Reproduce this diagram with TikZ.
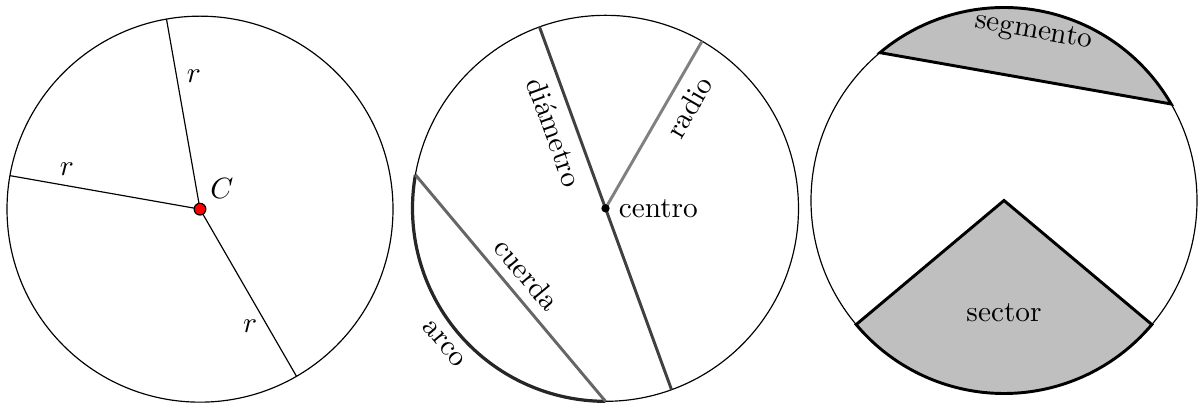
\documentclass[tikz,border=0pt]{standalone}
\usepackage{tikz}
\usetikzlibrary{calc}
\def\rad{2.316}
\begin{document}
\begin{tikzpicture}[
  punto/.style={circle,draw,inner sep=0pt,minimum size=4pt},
  etiq/.style={text=black},
  diam/.style={line width=1pt,black!75},
  radio/.style={line width=1pt,gray},
  cuerda/.style={line width=1pt,black!60},
  arco/.style={line width=1.1pt,black!85},
  pieza/.style={draw,line width=1pt,fill=lightgray}]
  \useasboundingbox (0,0) rectangle (14.376,-4.86);
  % circunferencia: radios
  \coordinate (c1) at (2.4,-2.51);
  \draw (c1) circle (\rad);
  \coordinate (p1) at ($(c1)+(100:\rad)$);
  \coordinate (p2) at ($(c1)+(170:\rad)$);
  \coordinate (p3) at ($(c1)+(300:\rad)$);
  \draw (c1) -- (p1) node[pos=0.7,right] (r1) {$r$};
  \draw (c1) -- (p2) node[pos=0.7,above] (r2) {$r$};
  \draw (c1) -- (p3) node[pos=0.7,left] (r3) {$r$};
  \node[punto,fill=red] (C) at (c1) {};
  \node[above right] (lC) at (c1) {$C$};
  % elementos
  \coordinate (c2) at (7.266,-2.50);
  \draw (c2) circle (\rad);
  \coordinate (d1) at ($(c2)+(110:\rad)$);
  \coordinate (d2) at ($(c2)+(290:\rad)$);
  \coordinate (q1) at ($(c2)+(60:\rad)$);
  \coordinate (k1) at ($(c2)+(170:\rad)$);
  \coordinate (k2) at ($(c2)+(270:\rad)$);
  \draw[arco] (k1) arc (170:270:\rad);
  \node[rotate=-50] (larco) at ($(c2)+(220:2.53)$) {arco};
  \draw[cuerda] (k1) -- (k2) node[etiq,midway,sloped,above] (lcuerda) {cuerda};
  \draw[diam] (d1) -- (d2) node[etiq,pos=0.27,sloped,below] (ldiam) {diámetro};
  \draw[radio] (c2) -- (q1) node[etiq,pos=0.67,sloped,below] (lradio) {radio};
  \node[punto,fill=black,minimum size=2.4pt] (O) at (c2) {};
  \node[right=1pt] (lcentro) at (c2) {centro};
  % sector y segmento
  \coordinate (c3) at (12.048,-2.406);
  \draw (c3) circle (\rad);
  \draw[pieza] (c3) -- ($(c3)+(220:\rad)$) arc (220:320:\rad) -- cycle;
  \draw[pieza] ($(c3)+(30:\rad)$) arc (30:130:\rad) -- cycle;
  \node (lsector) at ($(c3)+(270:1.34)$) {sector};
  \node[rotate=-10] (lseg) at ($(c3)+(80:2.05)$) {segmento};
\end{tikzpicture}
\end{document}
